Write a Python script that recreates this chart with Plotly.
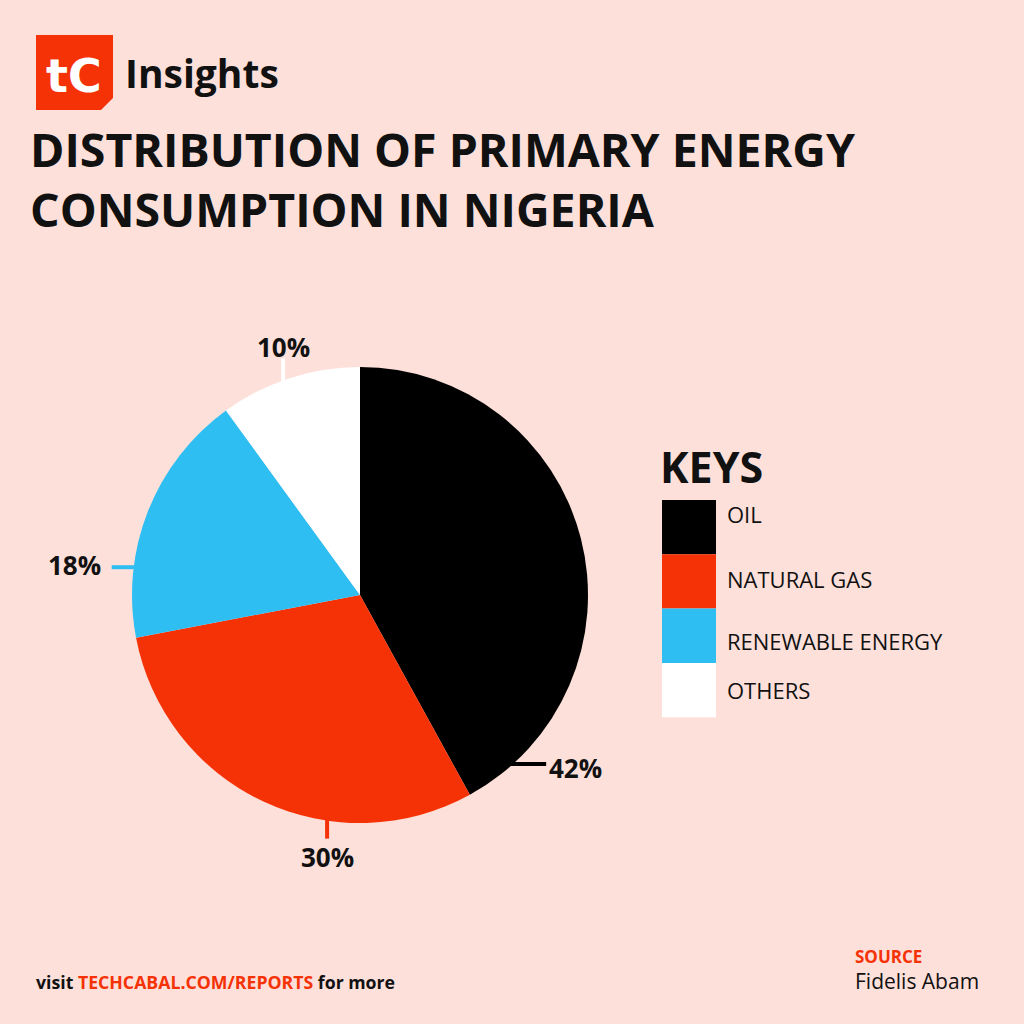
import math
import plotly.graph_objects as go

# data
labels = ["OIL", "NATURAL GAS", "RENEWABLE ENERGY", "OTHERS"]
shares = [42, 30, 18, 10]
colors = ["#000000", "#F53206", "#2FBEF2", "#FFFFFF"]

BG = "#FDE0DA"
RED = "#F53206"
FONT = "Open Sans"

W = H = 1024
# pie geometry in pixels
CX, CY, R = 360, 595, 228
# where each percentage label hangs off the rim (deg clockwise from 12 o'clock)
LABEL_ANGLES = [137.8, 188.3, 277.0, 340.3]
LEADER_DIR = ["right", "down", "left", "up"]
LEADER_LEN = [33, 18, 22, 22]


def px(x):
    return x / W


def py(y):
    return 1 - y / H


fig = go.Figure()

fig.add_trace(go.Pie(
    labels=labels,
    values=shares,
    marker=dict(colors=colors, line=dict(width=0)),
    sort=False,
    direction="clockwise",
    rotation=0,
    textinfo="none",
    hoverinfo="label+percent",
    showlegend=False,
    domain=dict(x=[px(CX - R), px(CX + R)], y=[py(CY + R), py(CY - R)]),
))

shapes = []
annotations = []

# label placement relative to the end of its tick: (gap along tick, sideways nudge, xanchor)
placing = {"right": (1, 4, "left"), "left": (9, -2, "right"),
           "up": (11, 0, "center"), "down": (18, 0, "center")}

# percentage labels with short leader ticks
total = sum(shares)
for i, v in enumerate(shares):
    a = math.radians(LABEL_ANGLES[i])
    x0 = CX + R * math.sin(a)
    y0 = CY - R * math.cos(a)
    d = LEADER_DIR[i]
    L = LEADER_LEN[i]
    dx, dy = {"right": (1, 0), "left": (-1, 0), "up": (0, -1), "down": (0, 1)}[d]
    x1, y1 = x0 + dx * L, y0 + dy * L
    shapes.append(dict(type="line", xref="paper", yref="paper",
                       x0=px(x0 - dx * 4), y0=py(y0 - dy * 4), x1=px(x1), y1=py(y1),
                       line=dict(color=colors[i], width=4), layer="below"))
    gap, nudge, xa = placing[d]
    lx = x1 + dx * gap
    ly = y1 + dy * gap + (nudge if dy == 0 else 0)
    annotations.append(dict(
        x=px(lx), y=py(ly), xref="paper", yref="paper",
        text=f"<b>{round(v / total * 100)}%</b>", showarrow=False,
        xanchor=xa, yanchor="middle",
        font=dict(family=FONT, size=26, color="#111111"),
    ))

# keys block
annotations.append(dict(x=px(658), y=py(466), xref="paper", yref="paper",
                        text="<b>KEYS</b>", showarrow=False, xanchor="left", yanchor="middle",
                        font=dict(family=FONT, size=43, color="#111111")))
sw_top, sw_h = 500, 54.3
text_offsets = [14, 25, 32, 27]
for i, lab in enumerate(labels):
    t = sw_top + i * sw_h
    shapes.append(dict(type="rect", xref="paper", yref="paper",
                       x0=px(662), x1=px(716), y0=py(t), y1=py(t + sw_h),
                       fillcolor=colors[i], line=dict(width=0)))
    annotations.append(dict(x=px(725), y=py(t + text_offsets[i]), xref="paper", yref="paper",
                            text=lab, showarrow=False, xanchor="left", yanchor="middle",
                            font=dict(family=FONT, size=22, color="#111111")))

# logo
shapes.append(dict(type="path", xref="paper", yref="paper",
                   path=f"M {px(36)} {py(35)} L {px(113)} {py(35)} L {px(113)} {py(98)} "
                        f"L {px(101)} {py(110)} L {px(36)} {py(110)} Z",
                   fillcolor=RED, line=dict(width=0)))
annotations.append(dict(x=px(74), y=py(76), xref="paper", yref="paper",
                        text="<b>tC</b>", showarrow=False, xanchor="center", yanchor="middle",
                        font=dict(family="DejaVu Sans", size=46, color="#FFFFFF")))
annotations.append(dict(x=px(123), y=py(72), xref="paper", yref="paper",
                        text="<b>Insights</b>", showarrow=False, xanchor="left", yanchor="middle",
                        font=dict(family=FONT, size=39, color="#111111")))

# title
annotations.append(dict(x=px(28), y=py(179), xref="paper", yref="paper",
                        text="<b>DISTRIBUTION OF PRIMARY ENERGY<br>CONSUMPTION IN NIGERIA</b>",
                        showarrow=False, xanchor="left", yanchor="middle", align="left",
                        font=dict(family=FONT, size=46.5, color="#111111")))

# footer
annotations.append(dict(x=px(34), y=py(982), xref="paper", yref="paper",
                        text=f"<b>visit <span style='color:{RED}'>TECHCABAL.COM/REPORTS</span> for more</b>",
                        showarrow=False, xanchor="left", yanchor="middle",
                        font=dict(family=FONT, size=17.7, color="#111111")))
annotations.append(dict(x=px(853), y=py(956), xref="paper", yref="paper",
                        text="<b>SOURCE</b>", showarrow=False, xanchor="left", yanchor="middle",
                        font=dict(family=FONT, size=17, color=RED)))
annotations.append(dict(x=px(853), y=py(981), xref="paper", yref="paper",
                        text="Fidelis Abam", showarrow=False, xanchor="left", yanchor="middle",
                        font=dict(family=FONT, size=21, color="#111111")))

fig.update_layout(
    width=W, height=H,
    margin=dict(l=0, r=0, t=0, b=0),
    paper_bgcolor=BG, plot_bgcolor=BG,
    shapes=shapes,
    annotations=annotations,
)

fig.write_html("out.html", config={"displayModeBar": False},
               post_script="document.body.style.margin='0';")
